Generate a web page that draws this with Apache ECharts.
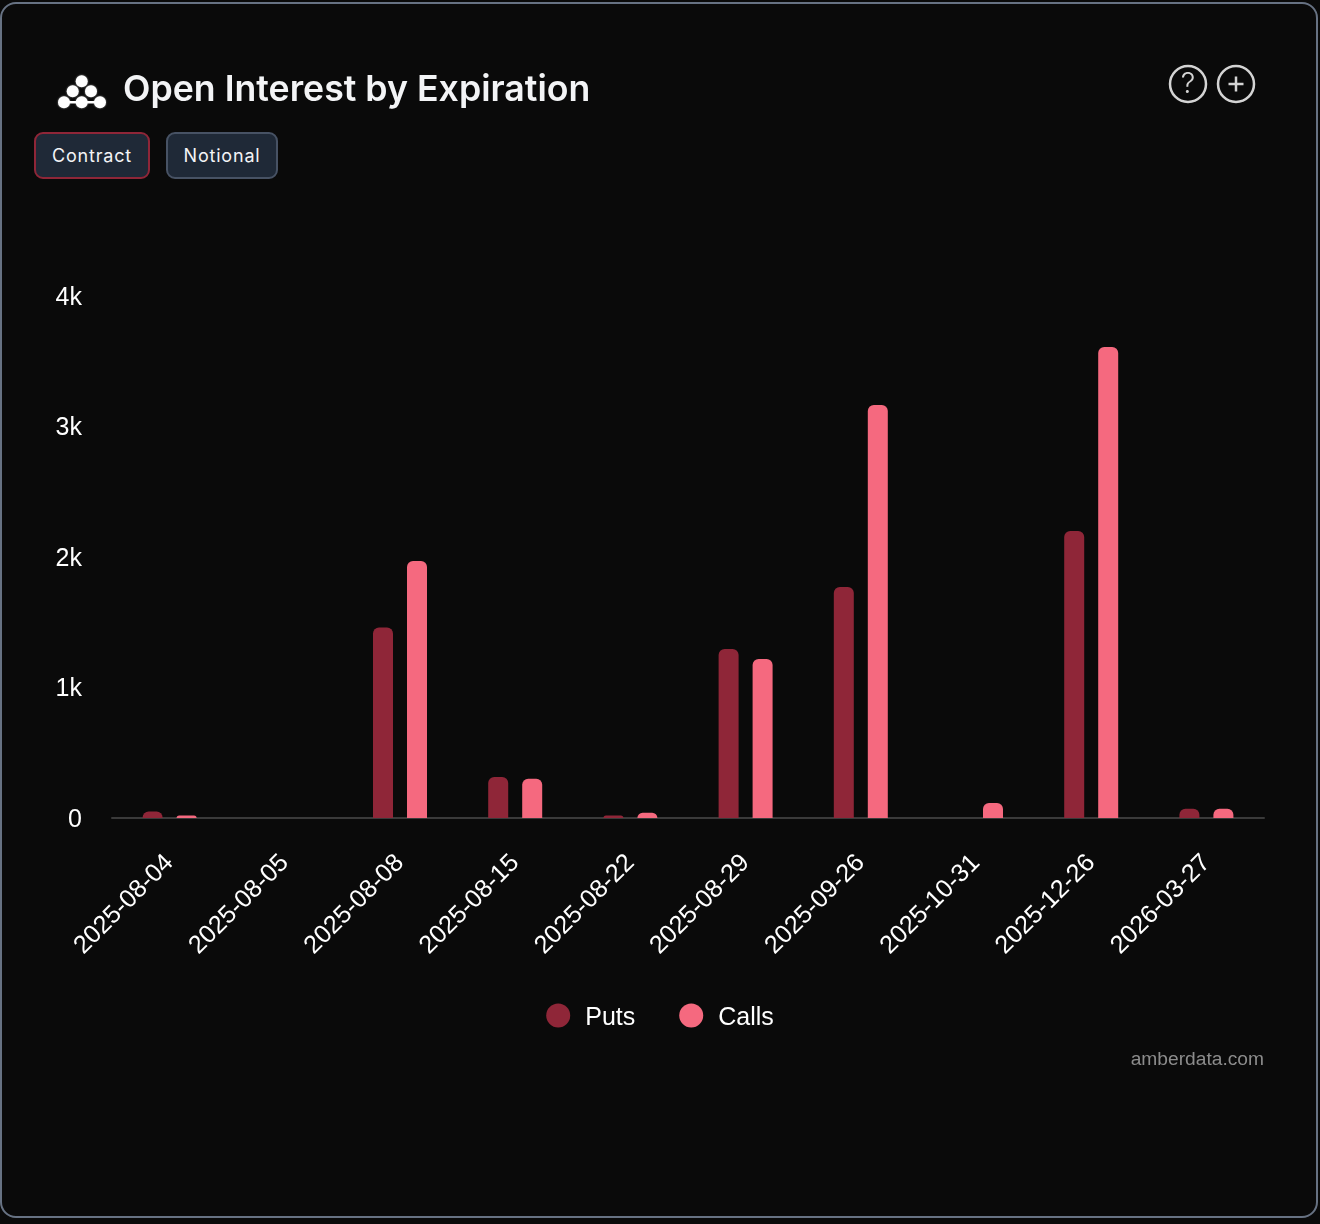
<!DOCTYPE html>
<html><head><meta charset="utf-8">
<style>
html,body{margin:0;padding:0;width:1320px;height:1224px;background:#0a0a0a;overflow:hidden}
#card{position:absolute;left:0;top:2px;width:1318px;height:1216px;border:2px solid #677283;border-radius:16px;box-sizing:border-box;background:#0a0a0a}
#chart{position:absolute;left:0;top:0;width:1320px;height:1224px}
.btn{position:absolute;top:132px;height:47px;box-sizing:border-box;border-radius:9px;background:#1f2937;border:2px solid #475264;color:#f3f4f6;font:400 18px Inter,sans-serif;letter-spacing:.8px;line-height:43px;text-align:center}
</style></head><body>
<div id="card"></div>
<div id="chart"></div>
<div class="btn" style="left:34px;width:116px;border-color:#8f2638">Contract</div>
<div class="btn" style="left:166px;width:112px">Notional</div>
<script src="https://cdn.jsdelivr.net/npm/echarts@6/dist/echarts.min.js"></script>
<script>
const categories = ['2025-08-04','2025-08-05','2025-08-08','2025-08-15','2025-08-22','2025-08-29','2025-09-26','2025-10-31','2025-12-26','2026-03-27'];
const puts  = [50, 0, 1460, 315, 20, 1295, 1770, 0, 2200, 70];
const calls = [20, 0, 1970, 300, 40, 1218, 3165, 115, 3610, 70];
const seriesNames = ['Puts','Calls'];
const titleText = 'Open Interest by Expiration';
const creditText = 'amberdata.com';

const chart = echarts.init(document.getElementById('chart'), null, {renderer:'canvas', width:1320, height:1224});
const dot = (cx,cy,r)=>({type:'circle',shape:{cx,cy,r},style:{fill:'#fff',shadowBlur:2,shadowColor:'rgba(255,255,255,.6)'},silent:true});
const link = (x1,y1,x2,y2,w)=>({type:'line',shape:{x1,y1,x2,y2},style:{stroke:'#fff',lineWidth:w},silent:true});
const ring = (cx,cy)=>({type:'circle',shape:{cx,cy,r:18},style:{fill:'none',stroke:'#d4d4d4',lineWidth:2.5},silent:true});
const bar = (x1,y1,x2,y2)=>({type:'line',shape:{x1,y1,x2,y2},style:{stroke:'#d4d4d4',lineWidth:2.5},silent:true});
const labelFont = {color:'#fff',fontFamily:'Liberation Sans',fontSize:25};
chart.setOption({
  animation:false,
  backgroundColor:'transparent',
  title:{text:titleText,left:118,top:67,textStyle:{color:'#f3f4f6',fontFamily:'Inter',fontWeight:600,fontSize:35.7}},
  grid:{left:112,right:56,top:296,bottom:406,containLabel:false},
  legend:{data:seriesNames,left:'center',top:995,icon:'circle',itemWidth:24,itemHeight:24,itemGap:44,
    formatter:n=>`{a|${n}}`,
    textStyle:{...labelFont,padding:[0,0,0,10],rich:{a:{...labelFont,padding:[6,0,0,0],lineHeight:24}}}},
  xAxis:{type:'category',data:categories,
    axisLine:{lineStyle:{color:'#3a3a3a',width:2}},axisTick:{show:false},
    axisLabel:{color:'#fff',fontFamily:'Liberation Sans',fontSize:25.2,rotate:45,margin:41,interval:0}},
  yAxis:{type:'value',min:0,max:4000,interval:1000,splitLine:{show:false},axisLine:{show:false},axisTick:{show:false},
    axisLabel:{...labelFont,margin:30,formatter:v=>`{a|${v===0?'0':(v/1000)+'k'}}`,rich:{a:{...labelFont,padding:[4,0,0,0]}}}},
  series:[
    {name:seriesNames[0],type:'bar',data:puts,barWidth:20,barGap:'70%',itemStyle:{color:'#8f2638',borderRadius:[6,6,0,0]}},
    {name:seriesNames[1],type:'bar',data:calls,barWidth:20,barGap:'70%',itemStyle:{color:'#f5697f',borderRadius:[6,6,0,0]}}
  ],
  graphic:[
    link(64,102.3,100,102.3,2.5),
    dot(81.7,81.3,6),dot(72.7,91.3,6),dot(91,91.3,6),dot(64,102.3,6),dot(81.7,102.3,6),dot(100,102.3,6),
    ring(1188,84),ring(1236,84),
    {type:'text',style:{text:'?',x:1188,y:84,align:'center',verticalAlign:'middle',fill:'#d4d4d4',fontFamily:'Inter',fontSize:29,fontWeight:300},silent:true},
    bar(1228.5,84,1243.5,84),bar(1236,76.5,1236,91.5),
    {type:'text',style:{text:creditText,x:1264,y:1060,align:'right',verticalAlign:'middle',fill:'#8c8c8c',fontFamily:'Liberation Sans',fontSize:19.2},silent:true}
  ]
});
</script>
</body></html>
